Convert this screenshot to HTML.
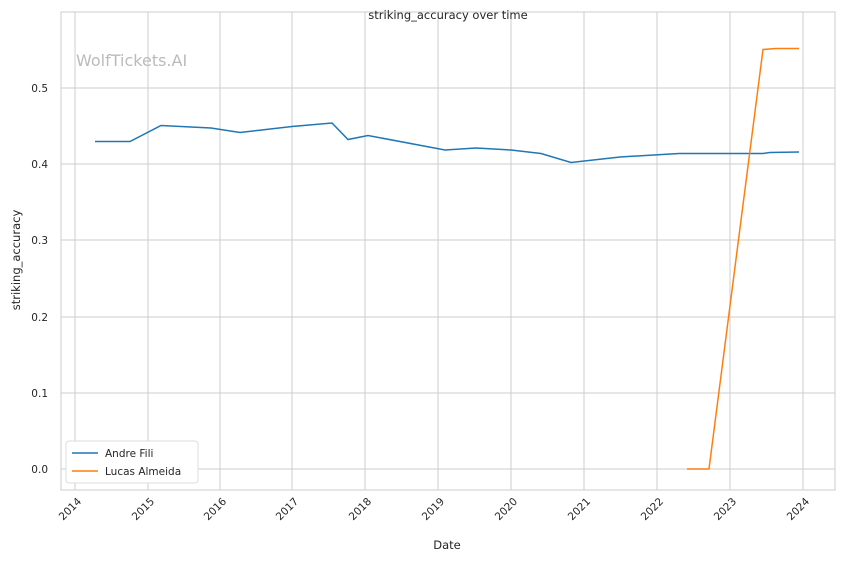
<!DOCTYPE html>
<html><head><meta charset="utf-8"><style>
body{margin:0;background:#fff;}
svg{font-family:"DejaVu Sans","Liberation Sans",sans-serif;}
</style></head><body>
<svg width="844" height="561" xmlns="http://www.w3.org/2000/svg">
<rect width="844" height="561" fill="#fff"/>
<g stroke="#cccccc" stroke-width="1">
<line x1="75" y1="12" x2="75" y2="490"/><line x1="148" y1="12" x2="148" y2="490"/><line x1="220" y1="12" x2="220" y2="490"/><line x1="292" y1="12" x2="292" y2="490"/><line x1="365" y1="12" x2="365" y2="490"/><line x1="438" y1="12" x2="438" y2="490"/><line x1="511" y1="12" x2="511" y2="490"/><line x1="584" y1="12" x2="584" y2="490"/><line x1="657" y1="12" x2="657" y2="490"/><line x1="730" y1="12" x2="730" y2="490"/><line x1="803" y1="12" x2="803" y2="490"/>
<line x1="61" y1="469" x2="835" y2="469"/><line x1="61" y1="393" x2="835" y2="393"/><line x1="61" y1="317" x2="835" y2="317"/><line x1="61" y1="240" x2="835" y2="240"/><line x1="61" y1="164" x2="835" y2="164"/><line x1="61" y1="88" x2="835" y2="88"/>
</g>
<rect x="61" y="12" width="774" height="478" fill="none" stroke="#cccccc" stroke-width="1"/>
<text x="76" y="66" font-size="16" fill="#bbbbbb">WolfTickets.AI</text>
<text x="448" y="19" font-size="11.5" fill="#262626" text-anchor="middle">striking_accuracy over time</text>
<g font-size="10.5" fill="#262626" text-anchor="end">
<text x="48" y="473">0.0</text><text x="48" y="397">0.1</text><text x="48" y="321">0.2</text><text x="48" y="244">0.3</text><text x="48" y="168">0.4</text><text x="48" y="92">0.5</text>
</g>
<g font-size="10.5" fill="#262626" text-anchor="end">
<text transform="translate(82,502) rotate(-45)">2014</text><text transform="translate(155,502) rotate(-45)">2015</text><text transform="translate(227,502) rotate(-45)">2016</text><text transform="translate(299,502) rotate(-45)">2017</text><text transform="translate(372,502) rotate(-45)">2018</text><text transform="translate(445,502) rotate(-45)">2019</text><text transform="translate(518,502) rotate(-45)">2020</text><text transform="translate(591,502) rotate(-45)">2021</text><text transform="translate(664,502) rotate(-45)">2022</text><text transform="translate(737,502) rotate(-45)">2023</text><text transform="translate(810,502) rotate(-45)">2024</text>
</g>
<text x="447" y="549" font-size="11.5" fill="#262626" text-anchor="middle">Date</text>
<text transform="translate(20,260) rotate(-90)" font-size="11.5" fill="#262626" text-anchor="middle">striking_accuracy</text>
<polyline fill="none" stroke="#1f77b4" stroke-width="1.5" points="95,141.5 130,141.5 161,125.5 211,128 240,132.5 292,126.5 332,123 348,139.5 368,135.5 445,150 476,148 511,150 541,153.5 571,162.5 620,157 679,153.5 763,153.5 770,152.5 799,152"/>
<polyline fill="none" stroke="#ff7f0e" stroke-width="1.5" points="687,469 709,469 763,49.5 776,48.5 799,48.5"/>
<rect x="66" y="441" width="132" height="42" fill="#fff" stroke="#dddddd" rx="3"/>
<line x1="72" y1="453" x2="98" y2="453" stroke="#1f77b4" stroke-width="1.5"/>
<line x1="72" y1="471" x2="98" y2="471" stroke="#ff7f0e" stroke-width="1.5"/>
<text x="105" y="457" font-size="10.5" fill="#262626">Andre Fili</text>
<text x="105" y="475" font-size="10.5" fill="#262626">Lucas Almeida</text>
</svg>
</body></html>
